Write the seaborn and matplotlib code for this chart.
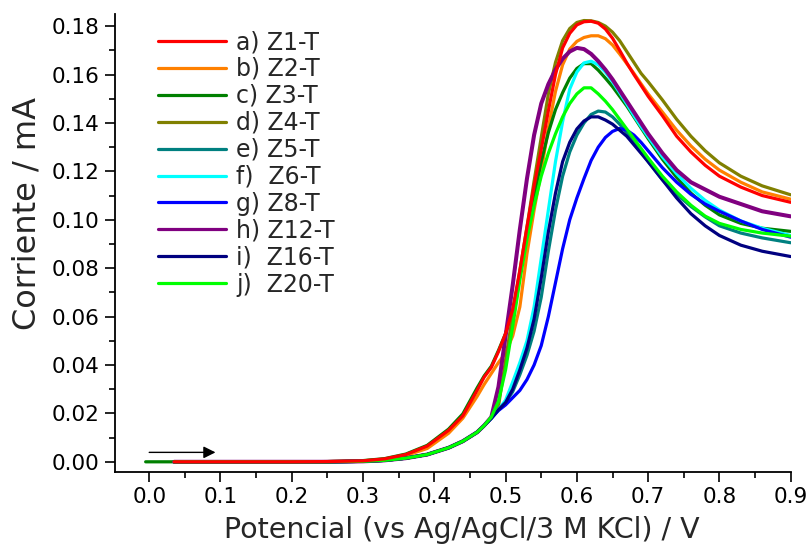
import numpy as np
import pandas as pd
import matplotlib
matplotlib.use("Agg")
import matplotlib.pyplot as plt
import seaborn as sns
from matplotlib.ticker import MultipleLocator, FormatStrFormatter

nan = np.nan
# Potential grid (V) shared by all voltammograms
potential = [-0.005, 0.035, 0.10, 0.15, 0.20, 0.25, 0.30, 0.33, 0.36, 0.39,
             0.42, 0.44, 0.46, 0.47, 0.48, 0.49, 0.50, 0.51, 0.52, 0.53,
             0.54, 0.55, 0.56, 0.57, 0.58, 0.59, 0.60, 0.61, 0.62, 0.63,
             0.64, 0.65, 0.66, 0.67, 0.68, 0.69, 0.70, 0.72, 0.74, 0.76,
             0.78, 0.80, 0.83, 0.86, 0.90]

# Currents (mA)
z1_t = [nan, 0.0, 0.0, 0.0, 0.0, 0.0001, 0.0004, 0.0012, 0.0030, 0.0065,
        0.0130, 0.0190, 0.0295, 0.0350, 0.0390, 0.0455, 0.0530, 0.0630, 0.0790, 0.0970,
        0.1140, 0.1290, 0.1450, 0.1600, 0.1710, 0.1770, 0.1805, 0.1818, 0.1820, 0.1812,
        0.1788, 0.1750, 0.1700, 0.1648, 0.1600, 0.1555, 0.1510, 0.1430, 0.1345, 0.1280,
        0.1225, 0.1180, 0.1135, 0.1100, 0.1072]
z2_t = [nan, 0.0, 0.0, 0.0, 0.0, 0.0001, 0.0004, 0.0011, 0.0026, 0.0055,
        0.0118, 0.0180, 0.0270, 0.0320, 0.0365, 0.0410, 0.0450, 0.0520, 0.0640, 0.0860,
        0.1040, 0.1200, 0.1380, 0.1530, 0.1640, 0.1705, 0.1737, 0.1753, 0.1760, 0.1760,
        0.1748, 0.1722, 0.1685, 0.1645, 0.1605, 0.1562, 0.1520, 0.1445, 0.1370, 0.1305,
        0.1250, 0.1205, 0.1155, 0.1115, 0.1085]
z3_t = [0.0, 0.0, 0.0, 0.0, 0.0, 0.0001, 0.0005, 0.0013, 0.0032, 0.0068,
        0.0135, 0.0198, 0.0305, 0.0355, 0.0395, 0.0460, 0.0530, 0.0625, 0.0770, 0.0940,
        0.1100, 0.1240, 0.1360, 0.1455, 0.1525, 0.1585, 0.1625, 0.1645, 0.1645, 0.1618,
        0.1585, 0.1550, 0.1510, 0.1470, 0.1425, 0.1380, 0.1335, 0.1250, 0.1175, 0.1110,
        0.1060, 0.1020, 0.0985, 0.0965, 0.0952]
z4_t = [nan, 0.0, 0.0, 0.0, 0.0, 0.0, 0.0002, 0.0006, 0.0015, 0.0030,
        0.0058, 0.0085, 0.0122, 0.0150, 0.0180, 0.0230, 0.0420, 0.0610, 0.0790, 0.0970,
        0.1160, 0.1340, 0.1520, 0.1650, 0.1740, 0.1790, 0.1815, 0.1823, 0.1822, 0.1815,
        0.1800, 0.1775, 0.1740, 0.1695, 0.1650, 0.1605, 0.1570, 0.1495, 0.1415, 0.1345,
        0.1285, 0.1235, 0.1180, 0.1140, 0.1103]
z5_t = [nan, 0.0, 0.0, 0.0, 0.0, 0.0, 0.0002, 0.0006, 0.0015, 0.0030,
        0.0058, 0.0085, 0.0122, 0.0150, 0.0180, 0.0215, 0.0245, 0.0290, 0.0360, 0.0440,
        0.0540, 0.0680, 0.0870, 0.1040, 0.1180, 0.1280, 0.1350, 0.1400, 0.1435, 0.1449,
        0.1445, 0.1425, 0.1395, 0.1360, 0.1320, 0.1280, 0.1240, 0.1165, 0.1105, 0.1055,
        0.1012, 0.0975, 0.0945, 0.0925, 0.0905]
z6_t = [nan, 0.0, 0.0, 0.0, 0.0, 0.0, 0.0002, 0.0006, 0.0015, 0.0030,
        0.0058, 0.0085, 0.0122, 0.0150, 0.0180, 0.0215, 0.0255, 0.0330, 0.0410, 0.0500,
        0.0640, 0.0840, 0.1040, 0.1240, 0.1405, 0.1540, 0.1610, 0.1648, 0.1655, 0.1640,
        0.1610, 0.1570, 0.1525, 0.1478, 0.1430, 0.1385, 0.1342, 0.1260, 0.1190, 0.1130,
        0.1080, 0.1040, 0.0995, 0.0965, 0.0935]
z8_t = [nan, 0.0, 0.0, 0.0, 0.0, 0.0, 0.0002, 0.0006, 0.0015, 0.0030,
        0.0058, 0.0085, 0.0122, 0.0150, 0.0180, 0.0212, 0.0235, 0.0265, 0.0295, 0.0340,
        0.0400, 0.0480, 0.0600, 0.0740, 0.0880, 0.1000, 0.1090, 0.1170, 0.1245, 0.1300,
        0.1340, 0.1365, 0.1377, 0.1370, 0.1350, 0.1320, 0.1285, 0.1215, 0.1155, 0.1105,
        0.1065, 0.1035, 0.0995, 0.0960, 0.0928]
z12_t = [nan, 0.0, 0.0, 0.0, 0.0, 0.0, 0.0002, 0.0006, 0.0015, 0.0030,
         0.0058, 0.0085, 0.0122, 0.0150, 0.0185, 0.0310, 0.0520, 0.0730, 0.0960, 0.1170,
         0.1350, 0.1480, 0.1560, 0.1620, 0.1665, 0.1695, 0.1710, 0.1705, 0.1685, 0.1655,
         0.1620, 0.1580, 0.1535, 0.1490, 0.1445, 0.1400, 0.1355, 0.1275, 0.1205, 0.1155,
         0.1125, 0.1095, 0.1065, 0.1035, 0.1014]
z16_t = [nan, 0.0, 0.0, 0.0, 0.0, 0.0, 0.0002, 0.0006, 0.0015, 0.0030,
         0.0058, 0.0085, 0.0122, 0.0150, 0.0180, 0.0215, 0.0245, 0.0300, 0.0380, 0.0470,
         0.0590, 0.0760, 0.0950, 0.1110, 0.1240, 0.1320, 0.1375, 0.1408, 0.1425, 0.1425,
         0.1412, 0.1395, 0.1370, 0.1345, 0.1310, 0.1275, 0.1240, 0.1165, 0.1090, 0.1025,
         0.0975, 0.0935, 0.0895, 0.0870, 0.0848]
z20_t = [nan, 0.0, 0.0, 0.0, 0.0, 0.0, 0.0002, 0.0006, 0.0015, 0.0030,
         0.0058, 0.0085, 0.0122, 0.0150, 0.0185, 0.0250, 0.0380, 0.0560, 0.0750, 0.0920,
         0.1060, 0.1180, 0.1275, 0.1355, 0.1425, 0.1480, 0.1520, 0.1545, 0.1545, 0.1520,
         0.1490, 0.1455, 0.1415, 0.1375, 0.1335, 0.1295, 0.1255, 0.1180, 0.1115, 0.1060,
         0.1015, 0.0985, 0.0960, 0.0945, 0.0932]

labels = ["a) Z1-T", "b) Z2-T", "c) Z3-T", "d) Z4-T", "e) Z5-T",
          "f)  Z6-T", "g) Z8-T", "h) Z12-T", "i)  Z16-T", "j)  Z20-T"]
series = [z1_t, z2_t, z3_t, z4_t, z5_t, z6_t, z8_t, z12_t, z16_t, z20_t]
colors = ["#FF0000", "#FF8000", "#008000", "#808000", "#008080",
          "#00FFFF", "#0000FF", "#800080", "#000080", "#00FF00"]

x_ticks = [0.0, 0.1, 0.2, 0.3, 0.4, 0.5, 0.6, 0.7, 0.8, 0.9]
y_ticks = [0.00, 0.02, 0.04, 0.06, 0.08, 0.10, 0.12, 0.14, 0.16, 0.18]

frames = []
for lab, vals in zip(labels, series):
    frames.append(pd.DataFrame({"E": potential, "I": vals, "sample": lab}))
df = pd.concat(frames, ignore_index=True).dropna()

sns.set_style("ticks")
plt.rcParams["font.family"] = ["DejaVu Sans"]

fig = plt.figure(figsize=(8.07, 5.47), dpi=100)
ax = fig.add_axes([0.1425, 0.1376, 0.8373, 0.8368])

sns.lineplot(data=df, x="E", y="I", hue="sample", hue_order=labels,
             palette=dict(zip(labels, colors)), estimator=None, sort=True,
             linewidth=2.3, ax=ax)

for line, lab in zip(ax.lines, labels):
    if lab.startswith("h)"):
        line.set_linewidth(2.9)
    if lab.startswith("a)"):
        line.set_zorder(3)

# scan-direction arrow
arrow_start = (0.0, 0.0039)
arrow_end = (0.093, 0.0039)
ax.annotate("", xy=arrow_end, xytext=arrow_start,
            arrowprops=dict(arrowstyle="-|>", color="black", lw=1.0,
                            mutation_scale=18, shrinkA=0, shrinkB=0))

ax.set_xlim(-0.048, 0.9)
ax.set_ylim(-0.0041, 0.185)
ax.set_xticks(x_ticks)
ax.set_yticks(y_ticks)
ax.xaxis.set_major_formatter(FormatStrFormatter("%.1f"))
ax.yaxis.set_major_formatter(FormatStrFormatter("%.2f"))
ax.xaxis.set_minor_locator(MultipleLocator(0.05))
ax.yaxis.set_minor_locator(MultipleLocator(0.01))
ax.tick_params(which="major", direction="out", length=7, width=1.2,
               labelsize=15.5, pad=4, colors="black")
ax.tick_params(which="minor", direction="out", length=4, width=1.2, colors="black")
for s in ["top", "right"]:
    ax.spines[s].set_visible(False)
for s in ["left", "bottom"]:
    ax.spines[s].set_linewidth(1.3)
    ax.spines[s].set_color("black")

ax.set_xlabel("Potencial (vs Ag/AgCl/3 M KCl) / V", fontsize=20.5)
ax.set_ylabel("Corriente / mA", fontsize=23)
ax.xaxis.set_label_coords(0.5136, -0.097)
ax.yaxis.set_label_coords(-0.108, 0.565)

handles, leg_labels = ax.get_legend_handles_labels()
ax.legend(handles, leg_labels, loc="upper left", bbox_to_anchor=(0.0636, 0.965),
          frameon=False, fontsize=17, handlelength=2.88, handletextpad=0.42,
          labelspacing=0.125, borderpad=0, borderaxespad=0)

fig.savefig("out.png", dpi=100)
